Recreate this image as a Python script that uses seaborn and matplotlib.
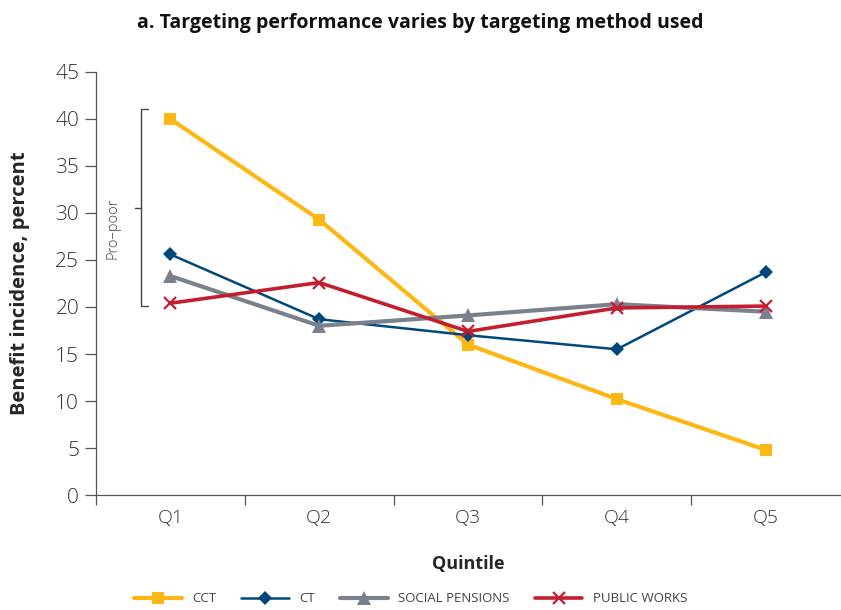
import numpy as np
import pandas as pd
import matplotlib
matplotlib.use('Agg')
import matplotlib.pyplot as plt
import seaborn as sns

# data
quintiles = ['Q1', 'Q2', 'Q3', 'Q4', 'Q5']
cct = [40.0, 29.3, 16.0, 10.2, 4.8]
ct = [25.6, 18.7, 17.0, 15.5, 23.7]
social_pensions = [23.3, 18.0, 19.1, 20.3, 19.5]
public_works = [20.4, 22.6, 17.4, 19.9, 20.1]

series = {
    'CCT': cct,
    'CT': ct,
    'SOCIAL PENSIONS': social_pensions,
    'PUBLIC WORKS': public_works,
}
colors = {'CCT': '#FDB714', 'CT': '#00487C', 'SOCIAL PENSIONS': '#7A808C', 'PUBLIC WORKS': '#C41E2E'}
markers = {'CCT': 's', 'CT': 'D', 'SOCIAL PENSIONS': '^', 'PUBLIC WORKS': 'x'}
widths = {'CCT': 3.0, 'CT': 1.8, 'SOCIAL PENSIONS': 3.0, 'PUBLIC WORKS': 2.6}
msizes = {'CCT': 8, 'CT': 7, 'SOCIAL PENSIONS': 10, 'PUBLIC WORKS': 9}

rows = []
for name, vals in series.items():
    for i, v in enumerate(vals):
        rows.append({'series': name, 'pos': i, 'value': v})
df = pd.DataFrame(rows)

sns.set_style('white')
plt.rcParams['font.family'] = ['Open Sans', 'DejaVu Sans']

fig = plt.figure(figsize=(8.41, 6.10), dpi=100)
ax = fig.add_axes([0.114, 0.1885, 0.885, 0.6935])

for name in series:
    d = df[df.series == name]
    sns.lineplot(data=d, x='pos', y='value', ax=ax, color=colors[name],
                 linewidth=widths[name], marker=markers[name], markersize=msizes[name],
                 markeredgewidth=1.6 if name == 'PUBLIC WORKS' else 0,
                 markeredgecolor=colors[name], label=name)

ax.set_xlim(-0.5, 4.5)
ax.set_ylim(0, 45)
ax.set_yticks(range(0, 50, 5))
ax.set_yticklabels([str(t) for t in range(0, 50, 5)], fontsize=15, color='#333333', fontweight='light')
ax.set_xticks(range(5))
ax.set_xticklabels(quintiles, fontsize=14, color='#333333', fontweight='light')
ax.set_xticks(np.arange(-0.5, 4.0, 1.0), minor=True)
ax.tick_params(axis='x', which='major', bottom=True, length=0, pad=10)
ax.tick_params(axis='x', which='minor', bottom=True, length=7, width=0.9, color='#555555', direction='out')
ax.tick_params(axis='y', left=True, length=8, width=0.9, color='#555555', direction='out', pad=4)

for s in ['top', 'right']:
    ax.spines[s].set_visible(False)
for s in ['left', 'bottom']:
    ax.spines[s].set_color('#555555')
    ax.spines[s].set_linewidth(0.9)

ax.set_xlabel('Quintile', fontsize=13, fontweight='bold', labelpad=20)
ax.set_ylabel('Benefit incidence, percent', fontsize=14.5, fontweight='bold', labelpad=18)
fig.text(0.5, 0.963, 'a. Targeting performance varies by targeting method used',
         ha='center', va='center', fontsize=14, fontweight='bold', color='#111111')

# pro-poor bracket
bx = -0.195
ax.plot([bx + 0.045, bx, bx, bx + 0.045], [41.1, 41.1, 20.1, 20.1], color='#444444',
        linewidth=1.0, clip_on=False)
ax.plot([bx - 0.04, bx], [30.5, 30.5], color='#444444', linewidth=1.0, clip_on=False)
ax.text(-0.385, 28.4, 'Pro\u2013poor', rotation=90, ha='center', va='center',
        fontsize=10.5, color='#444444', fontweight='light')

leg = ax.legend(loc='center', bbox_to_anchor=(0.423, -0.245), ncol=4, frameon=False,
                fontsize=9.5, handlelength=3.6, columnspacing=1.9, handletextpad=0.8)
for t in leg.get_texts():
    t.set_color('#444444')

fig.savefig('out.png', dpi=100)
